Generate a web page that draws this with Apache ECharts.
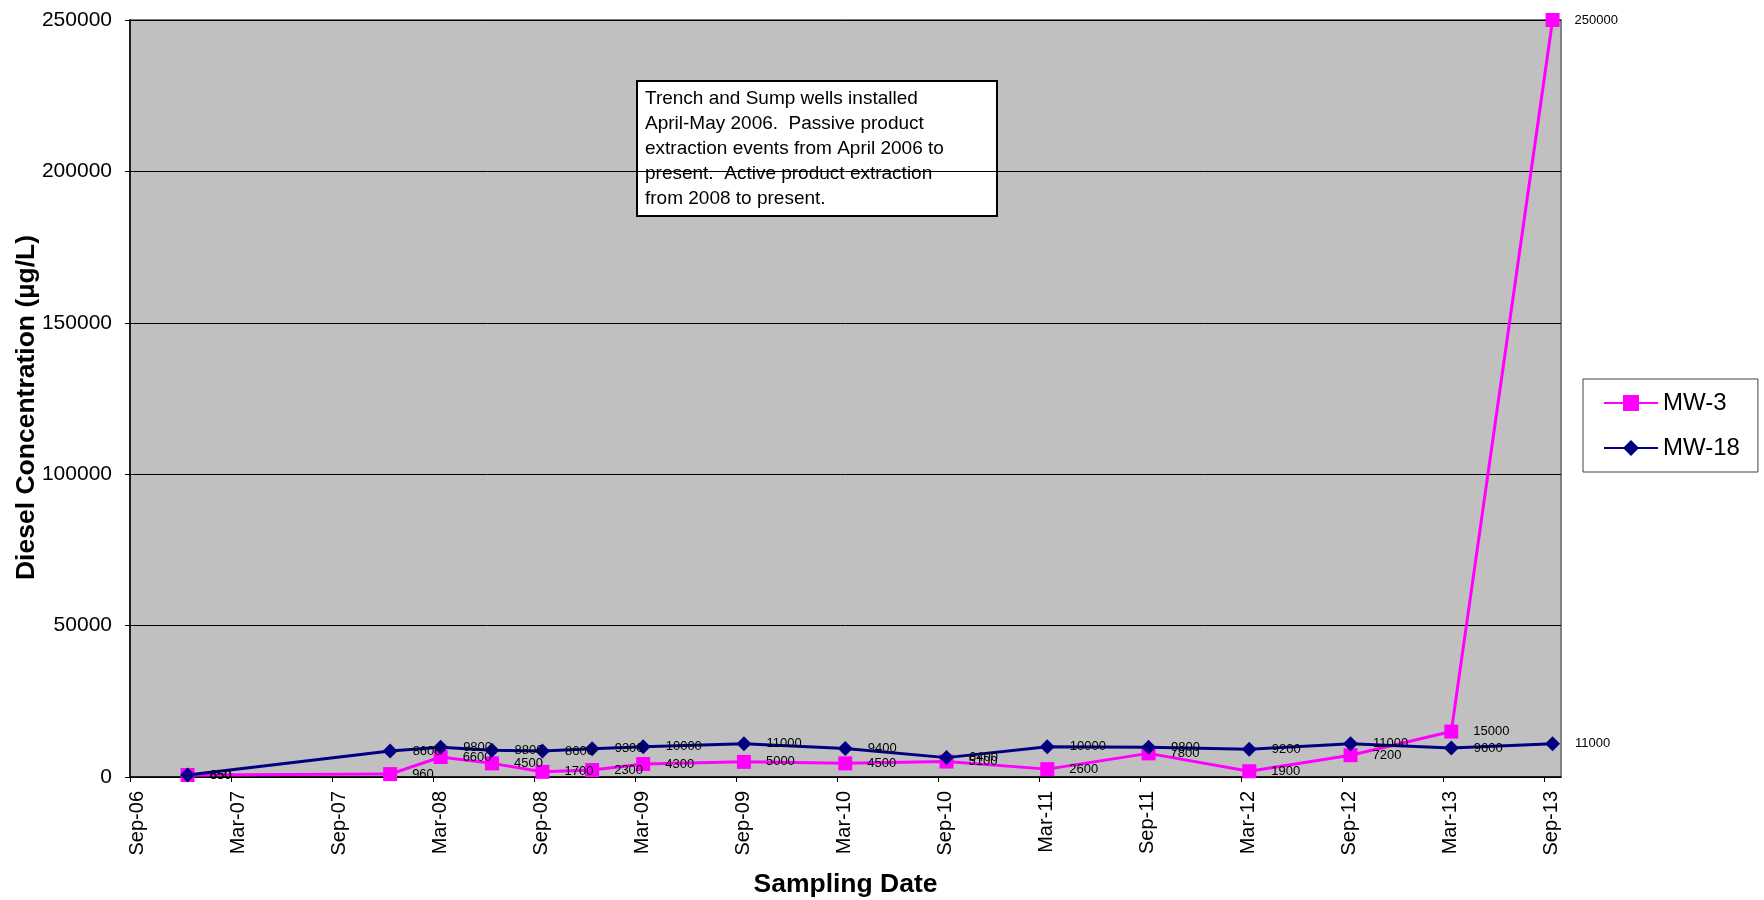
<!DOCTYPE html>
<html>
<head>
<meta charset="utf-8">
<title>Diesel Concentration – MW-3 and MW-18</title>
<script src="https://cdn.jsdelivr.net/npm/echarts@6/dist/echarts.min.js"></script>
<style>
  html, body { margin: 0; padding: 0; background: #ffffff; }
  #chart { width: 1764px; height: 900px; }
</style>
</head>
<body>
<div id="chart"></div>
<script>
// Sampling dates and diesel results (µg/L) for each monitoring well
const sampleDates = [
  '2006-12-14', '2007-12-15', '2008-03-15', '2008-06-16', '2008-09-16', '2008-12-15',
  '2009-03-16', '2009-09-15', '2010-03-16', '2010-09-16', '2011-03-16', '2011-09-16',
  '2012-03-16', '2012-09-16', '2013-03-16', '2013-09-16'
];
const mw3 = [650, 960, 6600, 4500, 1700, 2300, 4300, 5000, 4500, 5100, 2600, 7800, 1900, 7200, 15000, 250000];
const mw18 = [650, 8600, 9800, 8800, 8600, 9300, 10000, 11000, 9400, 6400, 10000, 9800, 9200, 11000, 9600, 11000];

// Date axis: months counted from Sep 2006, labelled every six months
const axisStart = { year: 2006, month: 9 };
const monthTicks = [0, 6, 12, 18, 24, 30, 36, 42, 48, 54, 60, 66, 72, 78, 84];
const axisEndMonths = 85;
const monthNames = ['Jan', 'Feb', 'Mar', 'Apr', 'May', 'Jun', 'Jul', 'Aug', 'Sep', 'Oct', 'Nov', 'Dec'];

const noteLines = [
  'Trench and Sump wells installed',
  'April-May 2006.  Passive product',
  'extraction events from April 2006 to',
  'present.  Active product extraction',
  'from 2008 to present.'
];

function monthsFromStart(dateStr) {
  const [y, m, d] = dateStr.split('-').map(Number);
  const daysInMonth = new Date(y, m, 0).getDate();
  return (y - axisStart.year) * 12 + (m - axisStart.month) + (d - 1) / daysInMonth;
}

function monthLabel(v) {
  const total = axisStart.month - 1 + Math.round(v);
  const year = axisStart.year + Math.floor(total / 12);
  const mon = monthNames[((total % 12) + 12) % 12];
  return mon + '-' + String(year % 100).padStart(2, '0');
}

const xs = sampleDates.map(monthsFromStart);
const mw3Data = xs.map((x, i) => [x, mw3[i]]);
const mw18Data = xs.map((x, i) => [x, mw18[i]]);

const FONT = '"Liberation Sans", Arial, Helvetica, sans-serif';
const chart = echarts.init(document.getElementById('chart'), null, { renderer: 'canvas' });

const labelStyle = {
  show: true,
  position: 'right',
  distance: 15,
  color: '#000000',
  fontFamily: FONT,
  fontSize: 13
};

chart.setOption({
  animation: false,
  backgroundColor: '#ffffff',
  grid: {
    left: 130, right: 203, top: 20, bottom: 123,
    outerBoundsMode: 'none',
    containLabel: false,
    show: true,
    backgroundColor: '#C0C0C0',
    borderColor: '#808080',
    borderWidth: 2
  },
  legend: {
    orient: 'vertical',
    left: 1583,
    top: 379,
    padding: [12, 18, 12, 20],
    itemGap: 21,
    itemWidth: 54,
    itemHeight: 20,
    borderColor: '#404040',
    borderWidth: 1,
    backgroundColor: '#ffffff',
    textStyle: { fontFamily: FONT, fontSize: 24, color: '#000000' },
    data: ['MW-3', 'MW-18']
  },
  xAxis: {
    type: 'value',
    min: 0,
    max: axisEndMonths,
    interval: 6,
    name: 'Sampling Date',
    nameLocation: 'middle',
    nameGap: 94,
    nameMoveOverlap: false,
    nameTextStyle: { fontFamily: FONT, fontSize: 26.5, fontWeight: 'bold', color: '#000000' },
    axisLine: { onZero: false, lineStyle: { color: '#000000', width: 1.5 } },
    axisTick: { show: true, inside: false, length: 5, lineStyle: { color: '#000000' }, customValues: monthTicks },
    axisLabel: {
      rotate: 90,
      margin: 14,
      verticalAlign: 'top',
      lineHeight: 15,
      fontFamily: FONT,
      fontSize: 20,
      color: '#000000',
      customValues: monthTicks,
      formatter: monthLabel
    },
    splitLine: { show: false }
  },
  yAxis: {
    type: 'value',
    min: 0,
    max: 250000,
    interval: 50000,
    name: 'Diesel Concentration (µg/L)',
    nameLocation: 'middle',
    nameGap: 90,
    nameMoveOverlap: false,
    nameTextStyle: { fontFamily: FONT, fontSize: 26.5, fontWeight: 'bold', color: '#000000', padding: [0, 18, 0, 0] },
    axisLine: { show: true, lineStyle: { color: '#000000', width: 1.5 } },
    axisTick: { show: true, inside: false, length: 5, lineStyle: { color: '#000000' } },
    axisLabel: { margin: 18, fontFamily: FONT, fontSize: 21, color: '#000000', formatter: v => String(v) },
    splitLine: { show: true, lineStyle: { color: '#000000', width: 1 } }
  },
  series: [
    {
      name: 'MW-3',
      type: 'line',
      data: mw3Data,
      clip: false,
      symbol: 'rect',
      symbolSize: 14,
      color: '#FF00FF',
      lineStyle: { color: '#FF00FF', width: 3 },
      itemStyle: { color: '#FF00FF' },
      label: Object.assign({}, labelStyle, { formatter: p => String(p.value[1]) }),
      z: 2
    },
    {
      name: 'MW-18',
      type: 'line',
      data: mw18Data,
      clip: false,
      symbol: 'diamond',
      symbolSize: 15,
      color: '#000080',
      lineStyle: { color: '#000080', width: 3 },
      itemStyle: { color: '#000080' },
      label: Object.assign({}, labelStyle, { formatter: p => String(p.value[1]) }),
      z: 3
    }
  ],
  graphic: [
    {
      type: 'group',
      left: 636,
      top: 80,
      z: 10,
      children: [
        {
          type: 'rect',
          shape: { x: 0, y: 0, width: 360, height: 135 },
          style: { fill: '#ffffff', stroke: '#000000', lineWidth: 2 }
        },
        {
          type: 'text',
          x: 8,
          y: 5,
          style: {
            text: noteLines.join('\n'),
            fontFamily: FONT,
            fontSize: 19,
            lineHeight: 25,
            fill: '#000000'
          }
        }
      ]
    }
  ]
});
</script>
</body>
</html>
